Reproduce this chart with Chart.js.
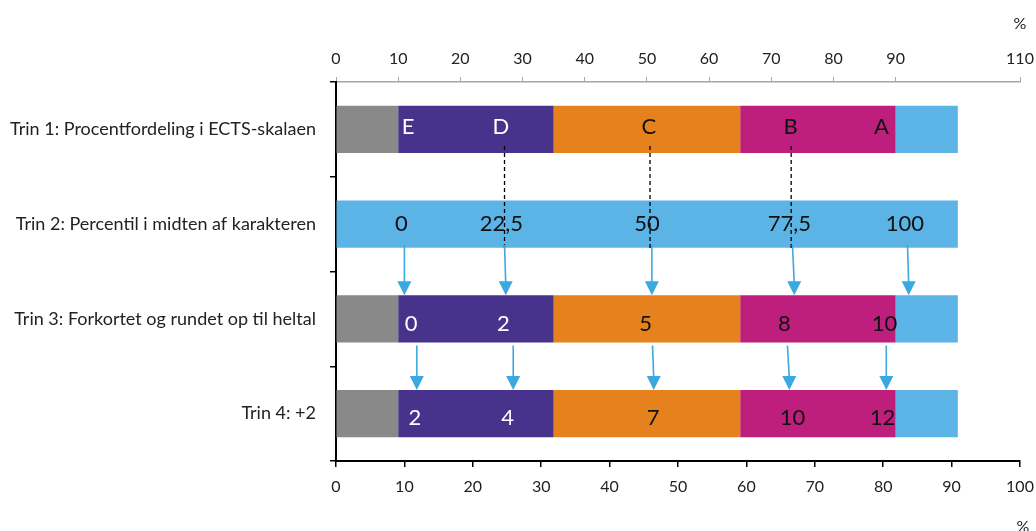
<!DOCTYPE html>
<html>
<head>
<meta charset="utf-8">
<script src="https://cdn.jsdelivr.net/npm/chart.js@4"></script>
<style>
  html, body { margin: 0; padding: 0; background: #fff; }
  #wrap { width: 1036px; height: 531px; }
</style>
</head>
<body>
<div id="wrap"><canvas id="myChart"></canvas></div>
<script>
// categories
const steps = [
  "Trin 1: Procentfordeling i ECTS-skalaen",
  "Trin 2: Percentil i midten af karakteren",
  "Trin 3: Forkortet og rundet op til heltal",
  "Trin 4: +2"
];
// stacked segments (%)
const greyPart    = [10, 0, 10, 10];
const purplePart  = [25, 0, 25, 25];
const orangePart  = [30, 0, 30, 30];
const magentaPart = [25, 0, 25, 25];
const bluePart    = [10, 100, 10, 10];

// text inside the bars, with their x position in %
const row1Text = ["E", "D", "C", "B", "A"];
const row1Pos  = [11.6, 26.5, 50.3, 73.1, 87.7];
const row2Text = ["0", "22,5", "50", "77,5", "100"];
const row2Pos  = [10.5, 26.6, 50, 72.9, 91.5];
const row3Text = ["0", "2", "5", "8", "10"];
const row3Pos  = [12.1, 26.9, 49.8, 72.1, 88.2];
const row4Text = ["2", "4", "7", "10", "12"];
const row4Pos  = [12.7, 27.6, 51, 73.4, 87.9];

// dashed guides from trin 1 to trin 2
const dashPos = [27.1, 50.5, 73.2];
// arrows trin 2 -> trin 3 and trin 3 -> trin 4 (start, end in %)
const arrowA_from = [11.0, 27.1, 50.8, 73.4, 91.9];
const arrowA_to   = [11.0, 27.3, 50.8, 73.7, 92.1];
const arrowB_from = [13.0, 28.5, 50.9, 72.6, 88.5];
const arrowB_to   = [13.0, 28.5, 51.1, 72.9, 88.5];

const hiddenTopTick = 100;

Chart.defaults.font.family = "Lato";
Chart.defaults.color = "#222";

const notes = {
  id: "notes",
  afterDatasetsDraw(chart) {
    const ctx = chart.ctx;
    const x = chart.scales.x;
    const y = chart.scales.y;
    const stepH = y.getPixelForValue(1) - y.getPixelForValue(0);
    const barH = stepH * 0.5;
    const top = i => y.getPixelForValue(i) - barH / 2;
    const bot = i => y.getPixelForValue(i) + barH / 2;

    ctx.save();
    // dashed lines
    ctx.strokeStyle = "#000";
    ctx.lineWidth = 1.3;
    ctx.setLineDash([4, 3]);
    dashPos.forEach(v => {
      const px = x.getPixelForValue(v);
      ctx.beginPath();
      ctx.moveTo(px, bot(0) - 7);
      ctx.lineTo(px, bot(1) + 1);
      ctx.stroke();
    });
    ctx.setLineDash([]);

    // arrows
    const arrow = (x1, y1, x2, y2) => {
      ctx.strokeStyle = "#3BA9E0";
      ctx.fillStyle = "#3BA9E0";
      ctx.lineWidth = 1.6;
      ctx.beginPath();
      ctx.moveTo(x1, y1);
      ctx.lineTo(x2, y2 - 12);
      ctx.stroke();
      ctx.beginPath();
      ctx.moveTo(x2, y2);
      ctx.lineTo(x2 - 7, y2 - 14);
      ctx.lineTo(x2 + 7, y2 - 14);
      ctx.closePath();
      ctx.fill();
    };
    arrowA_from.forEach((v, i) => arrow(x.getPixelForValue(v), bot(1) - 3, x.getPixelForValue(arrowA_to[i]), top(2)));
    arrowB_from.forEach((v, i) => arrow(x.getPixelForValue(v), bot(2) + 3, x.getPixelForValue(arrowB_to[i]), top(3)));

    // texts
    ctx.font = "22px Lato";
    ctx.textAlign = "center";
    ctx.textBaseline = "middle";
    const rows = [[row1Text, row1Pos, -2, true], [row2Text, row2Pos, 0, false], [row3Text, row3Pos, 5, true], [row4Text, row4Pos, 4, true]];
    rows.forEach(([txt, pos, dy, light], r) => {
      txt.forEach((t, i) => {
        ctx.fillStyle = (light && i < 2) ? "#fff" : "#111";
        ctx.fillText(t, x.getPixelForValue(pos[i]), y.getPixelForValue(r) + dy);
      });
    });

    // % units
    ctx.font = "16px Lato";
    ctx.fillStyle = "#222";
    ctx.fillText("%", x.getPixelForValue(110), chart.chartArea.top - 58);
    const x2 = chart.scales.x2;
    ctx.fillText("%", x2.getPixelForValue(100) + 3, chart.chartArea.bottom + 66);
    ctx.restore();
  }
};

const mk = (data, color) => ({ data, backgroundColor: color, xAxisID: "x", borderWidth: 0, barPercentage: 0.5, categoryPercentage: 1 });

new Chart(document.getElementById("myChart").getContext("2d"), {
  type: "bar",
  data: {
    labels: steps,
    datasets: [
      mk(greyPart, "#898989"),
      mk(purplePart, "#47338B"),
      mk(orangePart, "#E6821E"),
      mk(magentaPart, "#BE1E7C"),
      mk(bluePart, "#5BB4E5")
    ]
  },
  options: {
    indexAxis: "y",
    responsive: true,
    maintainAspectRatio: false,
    animation: false,
    layout: { padding: { left: 0, right: 16, top: 0, bottom: 0 } },
    plugins: { legend: { display: false }, tooltip: { enabled: false } },
    scales: {
      x: {
        position: "top",
        stacked: true,
        min: 0, max: 110,
        ticks: { stepSize: 10, font: { size: 16 }, padding: 9,
          callback: v => v === hiddenTopTick ? "" : v },
        grid: { drawOnChartArea: false, tickLength: 5,
          color: c => (c.tick && c.tick.value === hiddenTopTick) ? "rgba(0,0,0,0)" : "#A6A6A6" },
        border: { color: "#A6A6A6", width: 1.5 },
        afterFit: s => { s.height = 82; s.paddingLeft = 0; s.paddingRight = 0; }
      },
      x2: {
        position: "bottom",
        min: 0, max: 100,
        ticks: { stepSize: 10, font: { size: 16 }, padding: 10 },
        grid: { drawOnChartArea: false, tickLength: 6, color: "#000", lineWidth: 1.5 },
        border: { color: "#000", width: 2 },
        afterFit: s => { s.height = 70; s.paddingLeft = 0; s.paddingRight = 0; }
      },
      y: {
        stacked: true,
        ticks: { font: { size: 18 }, padding: 14, color: "#222" },
        grid: { offset: true, drawOnChartArea: false, tickLength: 6, color: "#000", lineWidth: 1.5 },
        border: { color: "#000", width: 2 },
        afterFit: s => { s.width = 336; }
      }
    }
  },
  plugins: [notes]
});
</script>
</body>
</html>
